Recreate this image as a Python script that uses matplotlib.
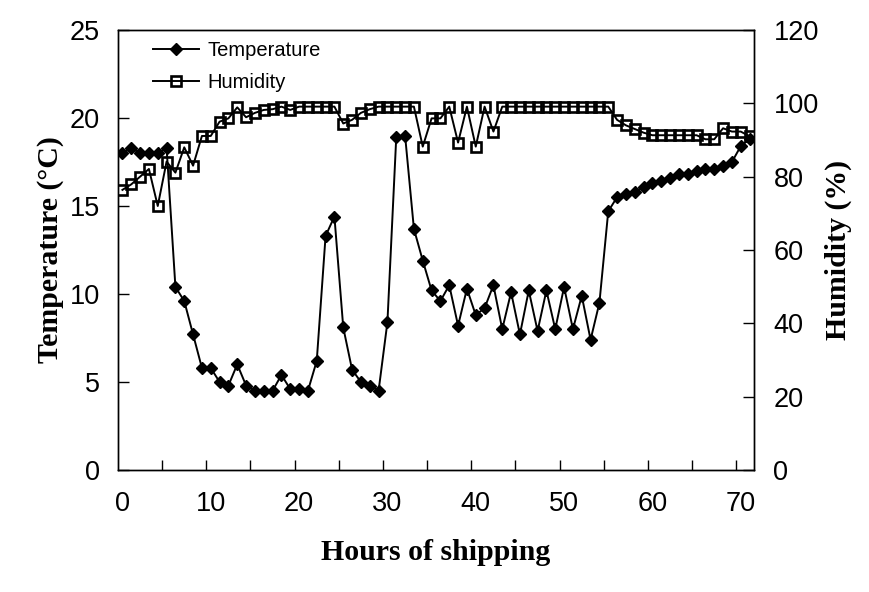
import matplotlib
matplotlib.use("Agg")
import matplotlib.pyplot as plt
from matplotlib.ticker import FixedLocator

hours = list(range(72))
temperature = [18.0, 18.3, 18.0, 18.0, 18.0, 18.3, 10.4, 9.6, 7.7, 5.8,
               5.8, 5.0, 4.8, 6.0, 4.8, 4.5, 4.5, 4.5, 5.4, 4.6,
               4.6, 4.5, 6.2, 13.3, 14.4, 8.1, 5.7, 5.0, 4.8, 4.5,
               8.4, 18.9, 19.0, 13.7, 11.9, 10.2, 9.6, 10.5, 8.2, 10.3,
               8.8, 9.2, 10.5, 8.0, 10.1, 7.7, 10.2, 7.9, 10.2, 8.0,
               10.4, 8.0, 9.9, 7.4, 9.5, 14.7, 15.5, 15.7, 15.8, 16.1,
               16.3, 16.4, 16.6, 16.8, 16.8, 17.0, 17.1, 17.1, 17.3, 17.5,
               18.4, 18.8]
humidity = [76.4, 77.9, 80.0, 82.1, 72.0, 84.1, 81.1, 88.0, 83.0, 91.1,
            91.1, 95.0, 95.9, 98.9, 96.2, 97.4, 98.2, 98.4, 99.1, 98.2,
            99.1, 99.1, 99.1, 99.1, 99.1, 94.5, 95.5, 97.4, 98.4, 99.1,
            99.1, 99.1, 99.1, 99.1, 88.2, 95.9, 95.9, 99.1, 89.3, 99.1,
            88.2, 99.1, 92.3, 99.1, 99.1, 99.1, 99.1, 99.1, 99.1, 99.1,
            99.1, 99.1, 99.1, 99.1, 99.1, 99.1, 95.5, 94.0, 93.0, 92.0,
            91.3, 91.3, 91.3, 91.3, 91.3, 91.3, 90.2, 90.2, 93.2, 92.3,
            92.3, 91.0]
x_labels = [0, 10, 20, 30, 40, 50, 60, 70]
temp_ticks = [0, 5, 10, 15, 20, 25]
hum_ticks = [0, 20, 40, 60, 80, 100, 120]

tick_font = "Liberation Sans"
label_font = "Liberation Serif"

fig = plt.figure(figsize=(8.69, 5.92), dpi=100)
ax = fig.add_axes([118 / 869, 1 - 470 / 592, (754 - 118) / 869, (470 - 30) / 592])
ax2 = ax.twinx()

l1, = ax.plot(hours, temperature, color="black", lw=1.4, marker="D",
              markersize=6, markerfacecolor="black", markeredgecolor="black",
              label="Temperature")
l2, = ax2.plot(hours, humidity, color="black", lw=1.4, marker="s",
               markersize=7.8, markerfacecolor="none", markeredgecolor="black",
               markeredgewidth=1.9, label="Humidity")

ax.set_xlim(-0.5, 71.5)
ax.set_ylim(0, 25)
ax2.set_ylim(0, 120)

ax.set_xticks(x_labels)
ax.set_xticklabels([str(v) for v in x_labels])
ax.xaxis.set_minor_locator(FixedLocator([4.5 + 5 * k for k in range(14)]))
ax.tick_params(axis="x", which="major", length=0, pad=15)
ax.tick_params(axis="x", which="minor", direction="in", length=7, width=1)
ax.set_yticks(temp_ticks)
ax.tick_params(axis="y", direction="in", length=8, width=1, pad=13)
ax2.set_yticks(hum_ticks)
ax2.tick_params(axis="y", direction="in", length=8, width=1, pad=14)

for a in (ax, ax2):
    for lab in a.get_xticklabels() + a.get_yticklabels():
        lab.set_fontfamily(tick_font)
        lab.set_fontsize(19.5)
    for sp in a.spines.values():
        sp.set_linewidth(1.0)

ax.set_xlabel("Hours of shipping", fontfamily=label_font, fontweight="bold",
              fontsize=21.5, labelpad=16)
ax.set_ylabel("Temperature (\u00b0C)", fontfamily=label_font, fontweight="bold",
              fontsize=21.5, labelpad=4)
ax2.set_ylabel("Humidity (%)", fontfamily=label_font, fontweight="bold",
               fontsize=21.5, rotation=90, labelpad=4)

ax2.legend(handles=[l1, l2], loc="upper left", bbox_to_anchor=(0.055, 0.976),
           frameon=False, borderpad=0, borderaxespad=0, handlelength=2.3,
           handletextpad=0.4, labelspacing=0.65,
           prop={"family": tick_font, "size": 14.5})

fig.savefig("out.png", dpi=100)
